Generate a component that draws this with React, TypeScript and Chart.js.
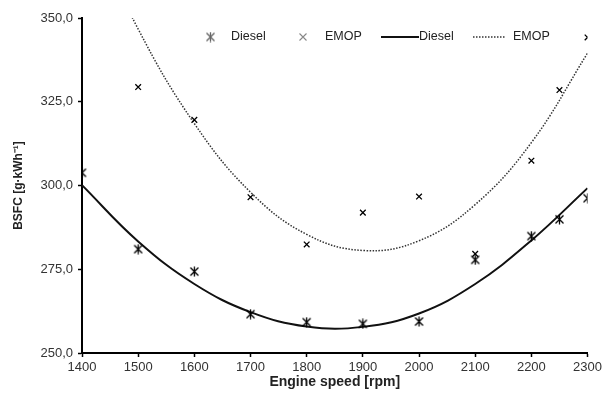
import React, { useEffect, useRef } from "react";
import { Chart, registerables } from "chart.js";

Chart.register(...registerables);

const dieselSpeeds = [1400, 1500, 1600, 1700, 1800, 1900, 2000, 2100, 2200, 2250, 2300];
const dieselBsfc = [303.8, 281.0, 274.3, 261.6, 259.2, 258.7, 259.4, 277.8, 284.9, 289.9, 296.2];

const emopSpeeds = [1500, 1600, 1700, 1800, 1900, 2000, 2100, 2200, 2250, 2300];
const emopBsfc = [329.4, 319.6, 296.5, 282.4, 291.9, 296.7, 279.6, 307.4, 328.5, 344.2];

const trendSpeeds = [1400, 1500, 1600, 1700, 1800, 1900, 2000, 2100, 2200, 2300];
const dieselTrend = [300.1, 283.3, 270.6, 262.2, 257.9, 257.8, 261.8, 270.6, 283.6, 299.2];
const emopTrend = [382.7, 346.7, 318.5, 298.0, 285.4, 280.6, 283.5, 294.3, 312.8, 339.5];

const yTicks = [250, 275, 300, 325, 350];
const xTicks = [1400, 1500, 1600, 1700, 1800, 1900, 2000, 2100, 2200, 2300];

const legendLabels = ["Diesel", "EMOP", "Diesel", "EMOP"];

function makeAsterisk(color: string): HTMLCanvasElement {
  const c = document.createElement("canvas");
  c.width = 11;
  c.height = 11;
  const g = c.getContext("2d")!;
  g.strokeStyle = color;
  g.lineWidth = 1.3;
  g.beginPath();
  g.moveTo(1.5, 1.5);
  g.lineTo(9.5, 9.5);
  g.moveTo(9.5, 1.5);
  g.lineTo(1.5, 9.5);
  g.moveTo(5.5, 0.5);
  g.lineTo(5.5, 10.5);
  g.stroke();
  return c;
}

const FONT = "'Liberation Sans', Arial, sans-serif";

export default function App() {
  const ref = useRef<HTMLCanvasElement | null>(null);

  useEffect(() => {
    document.body.style.margin = "0";
    const canvas = ref.current;
    if (!canvas) return;
    const asterisk = makeAsterisk("#000");
    const asteriskGray = makeAsterisk("#666");

    const legendPlugin = {
      id: "inlineLegend",
      afterDraw(chart: any) {
        const ctx = chart.ctx as CanvasRenderingContext2D;
        const y = 37;
        ctx.save();
        ctx.font = `12.5px ${FONT}`;
        ctx.fillStyle = "#222";
        ctx.textBaseline = "middle";
        ctx.textAlign = "left";
        ctx.drawImage(asteriskGray, 205, y - 5.5);
        ctx.fillText(legendLabels[0], 231, y);
        ctx.strokeStyle = "#888";
        ctx.lineWidth = 1.1;
        ctx.beginPath();
        ctx.moveTo(299.5, y - 3.5);
        ctx.lineTo(306.5, y + 3.5);
        ctx.moveTo(306.5, y - 3.5);
        ctx.lineTo(299.5, y + 3.5);
        ctx.stroke();
        ctx.fillText(legendLabels[1], 325, y);
        ctx.strokeStyle = "#111";
        ctx.lineWidth = 2;
        ctx.beginPath();
        ctx.moveTo(381, y);
        ctx.lineTo(419, y);
        ctx.stroke();
        ctx.fillText(legendLabels[2], 419, y);
        ctx.strokeStyle = "#333";
        ctx.lineWidth = 1.5;
        ctx.setLineDash([1.5, 1.5]);
        ctx.beginPath();
        ctx.moveTo(473, y);
        ctx.lineTo(505, y);
        ctx.stroke();
        ctx.setLineDash([]);
        ctx.fillText(legendLabels[3], 513, y);
        ctx.restore();
      },
    };

    const chart = new Chart(canvas, {
      type: "scatter",
      data: {
        datasets: [
          {
            label: "Diesel",
            data: dieselSpeeds.map((x, i) => ({ x, y: dieselBsfc[i] })),
            pointStyle: asterisk as any,
            pointRadius: 5,
            showLine: false,
            borderColor: "#000",
            backgroundColor: "#000",
          },
          {
            label: "EMOP",
            data: emopSpeeds.map((x, i) => ({ x, y: emopBsfc[i] })),
            pointStyle: "crossRot",
            pointRadius: 4,
            borderWidth: 1.3,
            showLine: false,
            borderColor: "#000",
            backgroundColor: "#000",
          },
          {
            label: "Diesel trend",
            data: trendSpeeds.map((x, i) => ({ x, y: dieselTrend[i] })),
            showLine: true,
            pointRadius: 0,
            borderColor: "#111",
            borderWidth: 2,
            tension: 0.4,
          },
          {
            label: "EMOP trend",
            data: trendSpeeds.map((x, i) => ({ x, y: emopTrend[i] })),
            showLine: true,
            pointRadius: 0,
            borderColor: "#333",
            borderWidth: 1.5,
            borderDash: [1.5, 1.5],
            tension: 0.4,
          },
        ],
      },
      options: {
        responsive: false,
        animation: false,
        layout: { padding: { top: 18, right: 15, left: 0, bottom: 0 } },
        plugins: {
          legend: { display: false },
          tooltip: { enabled: false },
        },
        scales: {
          x: {
            type: "linear",
            min: 1400,
            max: 2300,
            afterBuildTicks: (scale: any) => {
              scale.ticks = xTicks.map((v) => ({ value: v }));
            },
            afterFit: (scale: any) => {
              scale.height = 49;
            },
            ticks: {
              padding: 3,
              color: "#333",
              font: { family: FONT, size: 13 },
              callback: (v: any) => String(v),
              maxRotation: 0,
              autoSkip: false,
            },
            grid: {
              drawOnChartArea: false,
              drawTicks: true,
              tickLength: 4,
              tickColor: "#000",
              tickWidth: 1.5,
            },
            border: { display: true, color: "#000", width: 2 },
            title: {
              display: true,
              text: "Engine speed [rpm]",
              color: "#222",
              font: { family: FONT, size: 14, weight: "bold" },
              padding: { top: 0, bottom: 11 },
            },
          },
          y: {
            type: "linear",
            min: 250,
            max: 350,
            afterBuildTicks: (scale: any) => {
              scale.ticks = yTicks.map((v) => ({ value: v }));
            },
            afterFit: (scale: any) => {
              scale.width = 82;
            },
            ticks: {
              padding: 5,
              color: "#333",
              font: { family: FONT, size: 13 },
              callback: (v: any) => Number(v).toFixed(1).replace(".", ","),
            },
            grid: {
              drawOnChartArea: false,
              drawTicks: true,
              tickLength: 4,
              tickColor: "#000",
              tickWidth: 1.5,
            },
            border: { display: true, color: "#000", width: 2 },
            title: {
              display: true,
              text: "BSFC [g·kWh⁻¹]",
              color: "#222",
              font: { family: FONT, size: 12, weight: "bold" },
              padding: { top: 11, bottom: 0 },
            },
          },
        },
      },
      plugins: [legendPlugin],
    });

    return () => chart.destroy();
  }, []);

  return (
    <div style={{ width: 605, height: 402 }}>
      <canvas ref={ref} width={605} height={402} style={{ display: "block" }} />
    </div>
  );
}
